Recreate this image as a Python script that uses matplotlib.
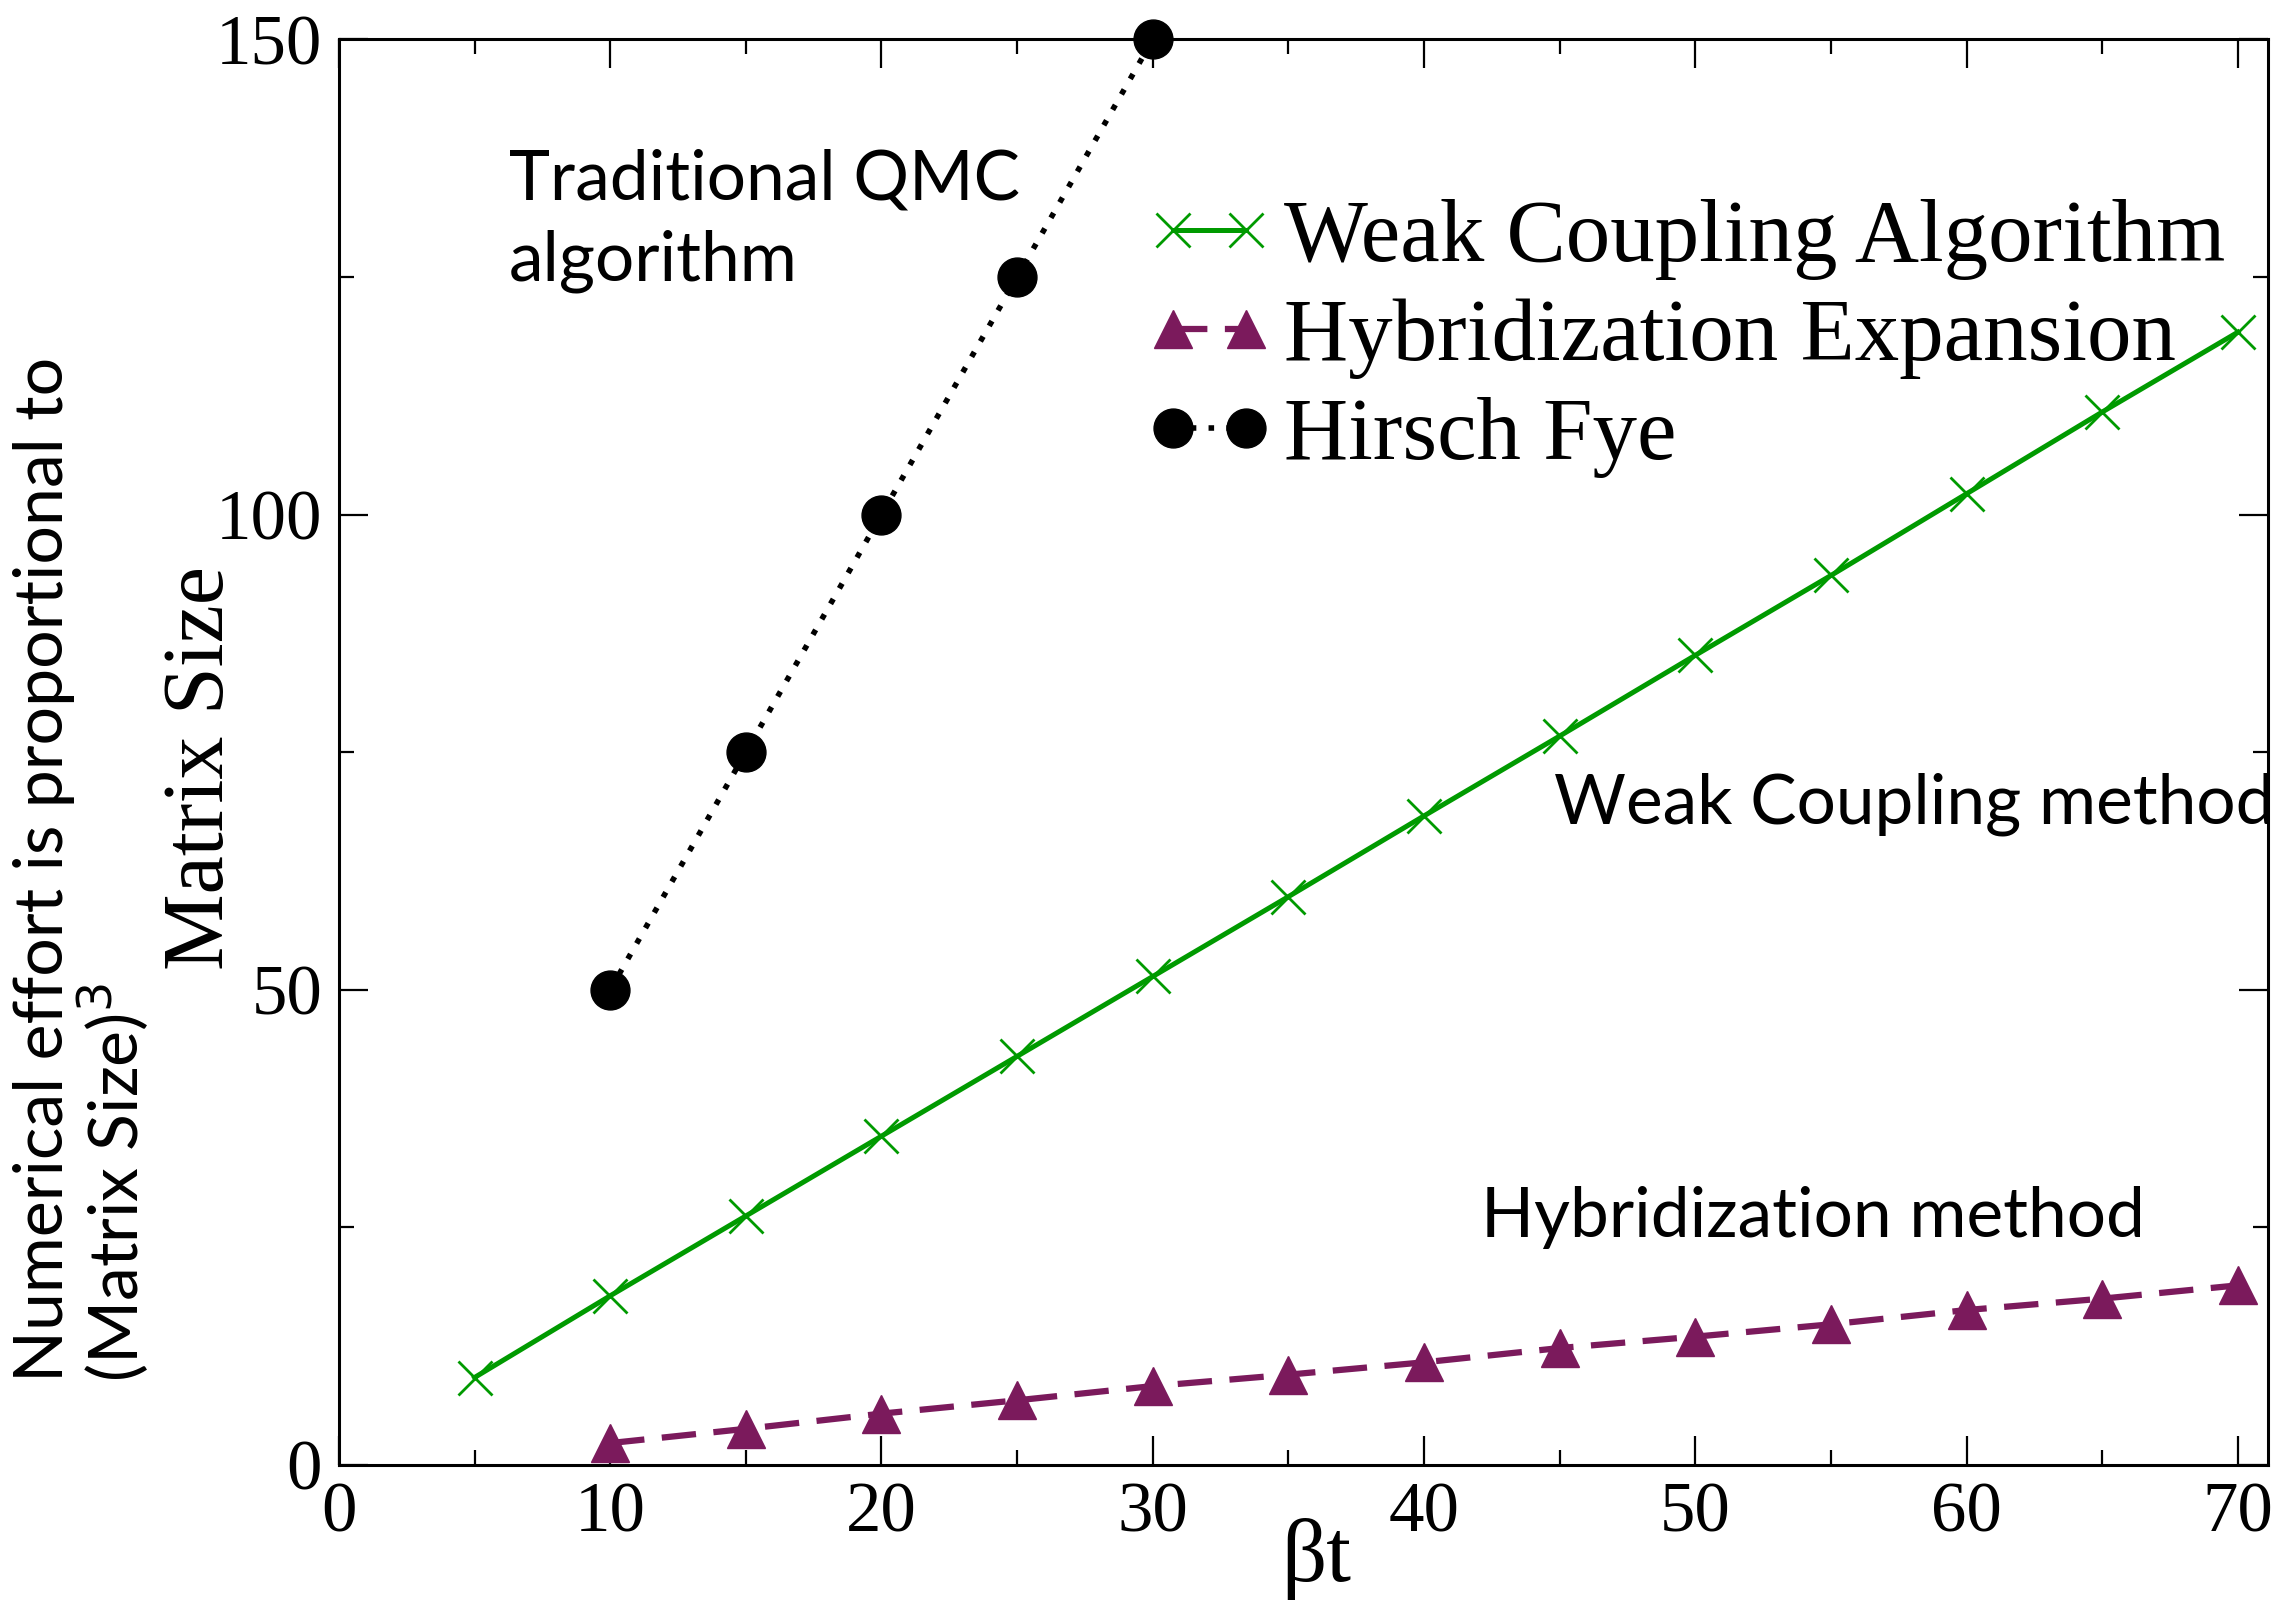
import matplotlib.pyplot as plt
from matplotlib.ticker import MultipleLocator

# data
beta_weak = [5, 10, 15, 20, 25, 30, 35, 40, 45, 50, 55, 60, 65, 70]
size_weak = [9.2, 17.8, 26.2, 34.6, 43.0, 51.4, 59.8, 68.3, 76.7, 85.2, 93.6, 102.2, 110.8, 119.2]

beta_hyb = [10, 15, 20, 25, 30, 35, 40, 45, 50, 55, 60, 65, 70]
size_hyb = [2.3, 3.8, 5.4, 6.8, 8.3, 9.5, 10.8, 12.3, 13.5, 14.8, 16.3, 17.5, 18.9]

beta_hf = [10, 15, 20, 25, 30]
size_hf = [50, 75, 100, 125, 150]

GREEN = "#009a00"
PURPLE = "#7b1a5c"
SERIF = "Liberation Serif"
SANS = "Lato"

fig = plt.figure(figsize=(22.93, 16.10), dpi=100)
ax = fig.add_axes([0.1478, 0.0901, 0.989 - 0.1478, 0.9755 - 0.0901])

ax.plot(beta_weak, size_weak, color=GREEN, lw=3.6, marker="x", ms=24, mew=2,
        label="Weak Coupling Algorithm", zorder=3)
ax.plot(beta_hyb, size_hyb, color=PURPLE, lw=4.5, ls=(0, (5.5, 2.8)), marker="^", ms=28,
        label="Hybridization Expansion", zorder=3)
ax.plot(beta_hf, size_hf, color="black", lw=4, ls=(0, (1, 2.2)), marker="o", ms=28,
        label="Hirsch Fye", zorder=4, clip_on=False)

ax.set_xlim(0, 71.1)
ax.set_ylim(0, 150)
ax.xaxis.set_major_locator(MultipleLocator(10))
ax.xaxis.set_minor_locator(MultipleLocator(5))
ax.yaxis.set_major_locator(MultipleLocator(50))
ax.yaxis.set_minor_locator(MultipleLocator(25))
ax.tick_params(which="both", direction="in", top=True, right=True, width=1.6)
ax.tick_params(which="major", length=21, pad=12)
ax.tick_params(which="minor", length=11)
for lbl in ax.get_xticklabels() + ax.get_yticklabels():
    lbl.set_fontfamily(SERIF)
    lbl.set_fontsize(51)
for sp in ax.spines.values():
    sp.set_linewidth(2.2)

ax.set_xlabel("βt", family=SERIF, fontsize=64)
ax.xaxis.set_label_coords(0.5065, -0.037)
ax.set_ylabel("Matrix Size", family=SERIF, fontsize=62)
ax.yaxis.set_label_coords(-0.050, 0.489)

fig.text(0.0605, 0.1416, "Numerical effort is proportional to\n(Matrix Size)$^3$",
         family=SANS, fontsize=49, rotation=90, rotation_mode="anchor",
         ha="left", va="baseline", multialignment="left", linespacing=1.0)

ax.text(6.26, 138.5, "Traditional QMC\nalgorithm", family=SANS, fontsize=50,
        ha="left", va="top", linespacing=1.35)
ax.text(44.8, 69.5, "Weak Coupling method", family=SANS, fontsize=50, ha="left", va="center")
ax.text(42.1, 26.0, "Hybridization method", family=SANS, fontsize=50, ha="left", va="center")

leg = ax.legend(loc="upper left", bbox_to_anchor=(0.4185, 0.888), frameon=False,
                prop={"family": SERIF, "size": 64}, numpoints=2, handlelength=1.42,
                handletextpad=0.13, labelspacing=0.2, borderpad=0, borderaxespad=0)

fig.savefig("out.png", dpi=100)
